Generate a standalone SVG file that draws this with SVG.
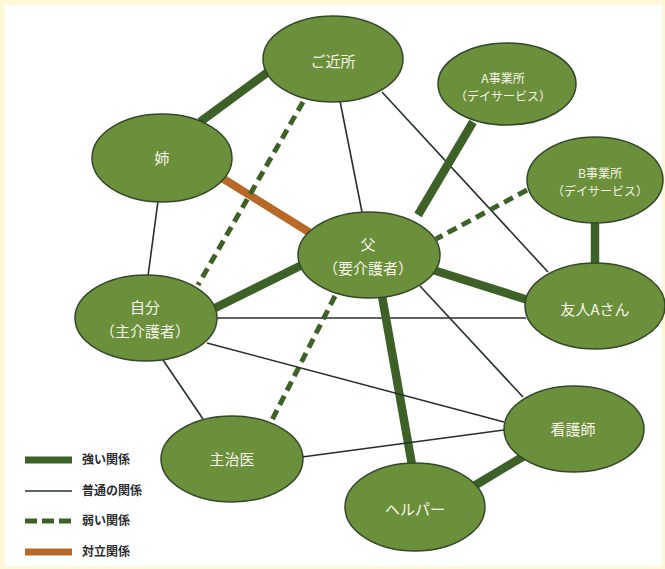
<svg xmlns="http://www.w3.org/2000/svg" width="665" height="569" viewBox="0 0 665 569">
<style>
.node{fill:#6c8f3c;stroke:#34482a;stroke-width:1.5}
.lbl{font-family:"Noto Sans CJK JP","Noto Sans",sans-serif;fill:#f3f6e6;text-anchor:middle;font-size:15px}
.sm{font-size:12px}
.strong{stroke:#3e6128;stroke-width:8.5;fill:none}
.normal{stroke:#26302a;stroke-width:1.6;fill:none}
.weak{stroke:#3e6128;stroke-width:5;stroke-dasharray:10 6;fill:none}
.conflict{stroke:#b8692a;stroke-width:8;fill:none}
.leg{font-family:"Noto Sans CJK JP","Noto Sans",sans-serif;fill:#2b2b2b;font-size:12px;font-weight:bold}
</style>
<rect x="0" y="0" width="665" height="569" fill="#fcf8d8"/>
<rect x="5" y="5" width="657" height="561" fill="#ffffff"/>
<g id="connectors">
<line class="strong" x1="200" y1="122" x2="268" y2="72"/>
<line class="conflict" x1="222" y1="178" x2="312" y2="234"/>
<line class="weak" x1="303" y1="102" x2="198" y2="285"/>
<line class="normal" x1="340" y1="101" x2="362" y2="212"/>
<line class="normal" x1="382" y1="92" x2="548" y2="272"/>
<line class="normal" x1="158" y1="201" x2="148" y2="276"/>
<line class="strong" x1="473" y1="122" x2="418" y2="215"/>
<line class="weak" x1="527" y1="190" x2="436" y2="239"/>
<line class="strong" x1="595" y1="220" x2="595" y2="265"/>
<line class="strong" x1="213" y1="309" x2="302" y2="265"/>
<line class="strong" x1="433" y1="270" x2="528" y2="300"/>
<line class="normal" x1="216" y1="318" x2="526" y2="318"/>
<line class="normal" x1="420" y1="286" x2="523" y2="397"/>
<line class="weak" x1="335" y1="296" x2="272" y2="420"/>
<line class="strong" x1="382" y1="296" x2="412" y2="465"/>
<line class="normal" x1="207" y1="343" x2="504" y2="422"/>
<line class="normal" x1="163" y1="360" x2="203" y2="419"/>
<line class="normal" x1="302" y1="457" x2="504" y2="430"/>
<line class="strong" x1="474" y1="486" x2="524" y2="456"/>
</g>
<g id="n-kinjo"><ellipse class="node" cx="333" cy="59" rx="70" ry="43"/><text class="lbl" x="333" y="67">ご近所</text></g>
<g id="n-ane"><ellipse class="node" cx="162" cy="158" rx="70" ry="44"/><text class="lbl" x="162" y="164">姉</text></g>
<g id="n-a"><ellipse class="node" cx="507" cy="84" rx="69" ry="41"/><text class="lbl sm" x="503" y="83">A事業所</text><text class="lbl sm" x="503" y="101">（デイサービス）</text></g>
<g id="n-b"><ellipse class="node" cx="595" cy="180" rx="68" ry="43"/><text class="lbl sm" x="600" y="178">B事業所</text><text class="lbl sm" x="600" y="196">（デイサービス）</text></g>
<g id="n-chichi"><ellipse class="node" cx="369" cy="255" rx="71" ry="43"/><text class="lbl" x="368" y="250">父</text><text class="lbl" x="368" y="274">（要介護者）</text></g>
<g id="n-jibun"><ellipse class="node" cx="146" cy="318" rx="71" ry="43"/><text class="lbl" x="145" y="313">自分</text><text class="lbl" x="145" y="337">（主介護者）</text></g>
<g id="n-yujin"><ellipse class="node" cx="595" cy="306" rx="70" ry="43"/><text class="lbl" x="595" y="315">友人Aさん</text></g>
<g id="n-kango"><ellipse class="node" cx="574" cy="429" rx="70" ry="43"/><text class="lbl" x="573" y="435">看護師</text></g>
<g id="n-shuji"><ellipse class="node" cx="232" cy="459" rx="71" ry="43"/><text class="lbl" x="232" y="465">主治医</text></g>
<g id="n-helper"><ellipse class="node" cx="415" cy="507" rx="70" ry="44"/><text class="lbl" x="415" y="515">ヘルパー</text></g>
<g id="legend">
<line class="strong" x1="25" y1="460" x2="72" y2="460" style="stroke-width:7"/>
<text class="leg" x="82" y="464">強い関係</text>
<line class="normal" x1="25" y1="491" x2="72" y2="491"/>
<text class="leg" x="82" y="495">普通の関係</text>
<line class="weak" x1="25" y1="521" x2="72" y2="521" style="stroke-dasharray:12 5"/>
<text class="leg" x="82" y="525">弱い関係</text>
<line class="conflict" x1="25" y1="552" x2="72" y2="552" style="stroke-width:7"/>
<text class="leg" x="82" y="556">対立関係</text>
</g>
</svg>
